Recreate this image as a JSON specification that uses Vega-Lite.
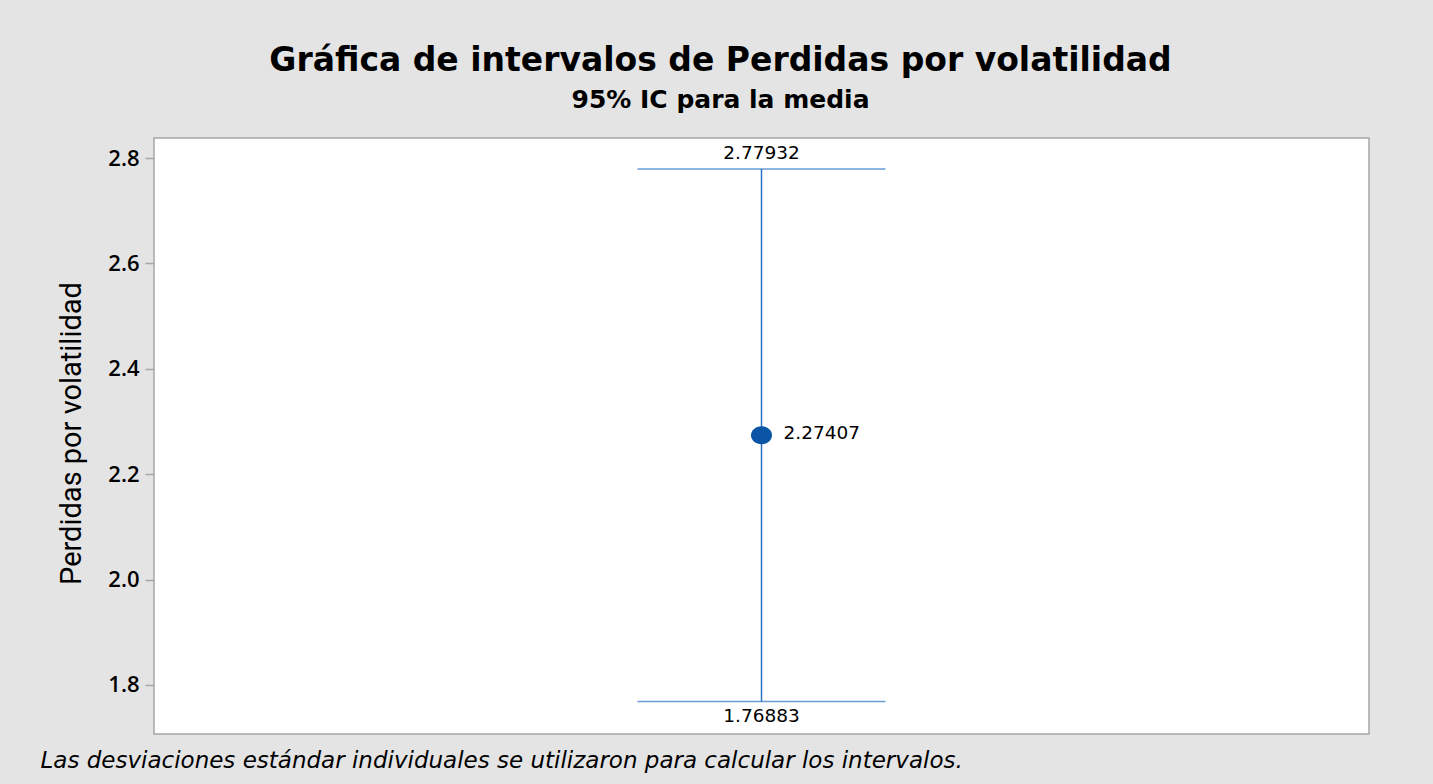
{
  "$schema": "https://vega.github.io/schema/vega-lite/v6.json",
  "autosize": {"type": "none"},
  "width": 1215,
  "height": 596,
  "padding": {"left": 154, "top": 138, "right": 64, "bottom": 50},
  "background": "#e4e4e4",
  "view": {"fill": "white", "stroke": "#a6a6a6", "strokeWidth": 1.5},
  "title": {
    "text": "Gráfica de intervalos de Perdidas por volatilidad",
    "subtitle": "95% IC para la media",
    "font": "DejaVu Sans",
    "fontSize": 33,
    "fontWeight": "bold",
    "color": "black",
    "subtitleFont": "DejaVu Sans",
    "subtitleFontSize": 25,
    "subtitleFontWeight": "bold",
    "subtitleColor": "black",
    "subtitlePadding": 10,
    "anchor": "middle",
    "frame": "group",
    "dx": -41,
    "offset": 25
  },
  "data": {
    "values": [
      {"grupo": "Perdidas por volatilidad", "media": 2.27407, "inferior": 1.76883, "superior": 2.77932}
    ]
  },
  "encoding": {
    "x": {
      "field": "grupo",
      "type": "nominal",
      "axis": {
        "labels": false,
        "ticks": false,
        "domain": false,
        "title": "Las desviaciones estándar individuales se utilizaron para calcular los intervalos.",
        "titleFont": "DejaVu Sans",
        "titleFontStyle": "italic",
        "titleFontWeight": "normal",
        "titleFontSize": 23,
        "titleColor": "black",
        "titleAnchor": "start",
        "titleAlign": "left",
        "titleBaseline": "alphabetic",
        "titleX": -114,
        "titleY": 33
      }
    }
  },
  "layer": [
    {
      "mark": {"type": "rule", "color": "#2a73c4", "strokeWidth": 1.5},
      "encoding": {
        "y": {
          "field": "inferior",
          "type": "quantitative",
          "scale": {"domain": [1.707, 2.838], "nice": false, "zero": false},
          "axis": {
            "values": [1.8, 2.0, 2.2, 2.4, 2.6, 2.8],
            "format": ".1f",
            "grid": false,
            "domain": false,
            "tickSize": 9,
            "tickColor": "#a6a6a6",
            "tickWidth": 1.5,
            "labelFont": "Open Sans",
            "labelFontSize": 22,
            "labelFontWeight": 600,
            "labelColor": "black",
            "labelPadding": 6,
            "title": "Perdidas por volatilidad",
            "titleFont": "Roboto",
            "titleFontSize": 29,
            "titleFontWeight": "normal",
            "titleColor": "black",
            "titleAngle": -90,
            "titleBaseline": "alphabetic",
            "titleAlign": "center",
            "titleX": -74,
            "titleY": 295
          }
        },
        "y2": {"field": "superior"}
      }
    },
    {
      "mark": {"type": "tick", "orient": "horizontal", "size": 248, "thickness": 1.5, "color": "#2a73c4"},
      "encoding": {"y": {"field": "superior", "type": "quantitative"}}
    },
    {
      "mark": {"type": "tick", "orient": "horizontal", "size": 248, "thickness": 1.5, "color": "#2a73c4"},
      "encoding": {"y": {"field": "inferior", "type": "quantitative"}}
    },
    {
      "mark": {"type": "point", "filled": true, "shape": "M-1,0A1,0.86,0,1,0,1,0A1,0.86,0,1,0,-1,0Z", "size": 441, "color": "#0b55a6", "opacity": 1},
      "encoding": {"y": {"field": "media", "type": "quantitative"}}
    },
    {
      "mark": {"type": "text", "font": "DejaVu Sans", "fontSize": 18.5, "color": "black", "baseline": "alphabetic", "dy": -10},
      "encoding": {"y": {"field": "superior", "type": "quantitative"}, "text": {"field": "superior", "type": "quantitative", "format": ".5f"}}
    },
    {
      "mark": {"type": "text", "font": "DejaVu Sans", "fontSize": 18.5, "color": "black", "baseline": "top", "dy": 6},
      "encoding": {"y": {"field": "inferior", "type": "quantitative"}, "text": {"field": "inferior", "type": "quantitative", "format": ".5f"}}
    },
    {
      "mark": {"type": "text", "font": "DejaVu Sans", "fontSize": 18.5, "color": "black", "baseline": "middle", "align": "left", "dx": 22, "dy": -2},
      "encoding": {"y": {"field": "media", "type": "quantitative"}, "text": {"field": "media", "type": "quantitative", "format": ".5f"}}
    }
  ]
}
